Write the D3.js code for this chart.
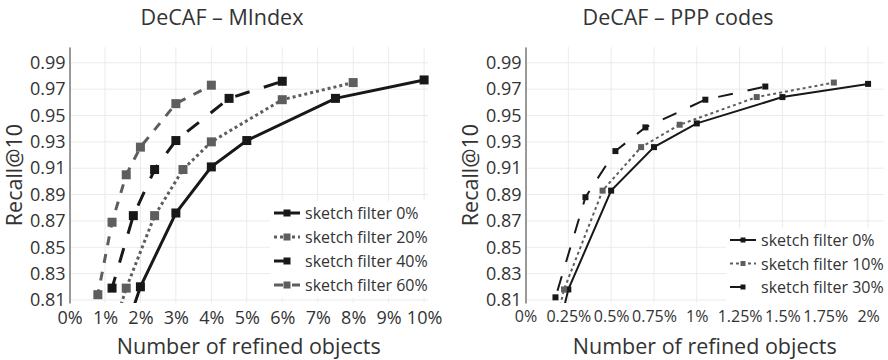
<!DOCTYPE html>
<html>
<head>
<meta charset="utf-8">
<script src="https://cdn.jsdelivr.net/npm/d3@7"></script>
<style>
  body { margin: 0; background: #fff; }
  text { font-family: "Open Sans", "Noto Sans", sans-serif; fill: #333; }
</style>
</head>
<body>
<svg id="chart" width="888" height="360"></svg>
<script>
// ---- data (x in % of refined objects, y = Recall@10) ----
// DeCAF - MIndex
const mindexNames = ["sketch filter 0%", "sketch filter 20%", "sketch filter 40%", "sketch filter 60%"]
const mindexX0 = [1, 2, 3, 4, 5, 7.5, 10]
const mindexY0 = [0.74, 0.820, 0.876, 0.911, 0.931, 0.963, 0.977]
const mindexX20 = [0.8, 1.6, 2.4, 3.2, 4, 6, 8]
const mindexY20 = [0.75, 0.819, 0.874, 0.909, 0.930, 0.962, 0.975]
const mindexX40 = [0.6, 1.2, 1.8, 2.4, 3, 4.5, 6]
const mindexY40 = [0.75, 0.819, 0.874, 0.909, 0.931, 0.963, 0.976]
const mindexX60 = [0.4, 0.8, 1.2, 1.6, 2, 3, 4]
const mindexY60 = [0.73, 0.814, 0.869, 0.905, 0.926, 0.959, 0.973]
const mindexTicks = [0, 1, 2, 3, 4, 5, 6, 7, 8, 9, 10]

// DeCAF - PPP codes
const pppNames = ["sketch filter 0%", "sketch filter 10%", "sketch filter 30%"]
const pppX0 = [0.125, 0.25, 0.5, 0.75, 1, 1.5, 2]
const pppY0 = [0.75, 0.818, 0.893, 0.926, 0.944, 0.964, 0.974]
const pppX10 = [0.1125, 0.225, 0.45, 0.675, 0.9, 1.35, 1.8]
const pppY10 = [0.757, 0.818, 0.893, 0.926, 0.943, 0.964, 0.975]
const pppX30 = [0.0875, 0.175, 0.35, 0.525, 0.7, 1.05, 1.4]
const pppY30 = [0.75, 0.812, 0.888, 0.923, 0.941, 0.962, 0.972]
const pppTicks = [0, 0.25, 0.5, 0.75, 1, 1.25, 1.5, 1.75, 2]

const recallTicks = [0.81, 0.83, 0.85, 0.87, 0.89, 0.91, 0.93, 0.95, 0.97, 0.99]

const BLACK = "#181818"
const GRAY = "#5e5e5e"

const svg = d3.select("#chart")

function toPoints(xs, ys) {
  return xs.map((x, i) => ({x: x, y: ys[i]}))
}

function drawPanel(cfg) {
  const x = d3.scaleLinear().domain(cfg.xDomain).range([cfg.left, cfg.right])
  const y = d3.scaleLinear().domain([0.8077, 1.002]).range([303, 47])

  const g = svg.append("g")

  // grid
  g.append("g").selectAll("line")
    .data(cfg.xTicks)
    .join("line")
      .attr("x1", d => x(d)).attr("x2", d => x(d))
      .attr("y1", y.range()[1]).attr("y2", y.range()[0])
      .attr("stroke", "#ebebeb").attr("stroke-width", 1)
  g.append("g").selectAll("line")
    .data(recallTicks)
    .join("line")
      .attr("x1", cfg.left).attr("x2", cfg.right)
      .attr("y1", d => y(d)).attr("y2", d => y(d))
      .attr("stroke", "#ebebeb").attr("stroke-width", 1)

  // axes (no domain line on x, gray line on y)
  const yAxis = g.append("g")
    .attr("transform", `translate(${cfg.left},0)`)
    .call(d3.axisLeft(y).tickValues(recallTicks).tickFormat(d3.format(".2f")).tickSize(0).tickPadding(4))
  yAxis.select(".domain").attr("stroke", "#999").attr("stroke-width", 2)
  yAxis.selectAll("text").style("font-size", "18px").attr("fill", "#333")

  const xAxis = g.append("g")
    .attr("transform", "translate(0,303)")
    .call(d3.axisBottom(x).tickValues(cfg.xTicks).tickFormat(d => d + "%").tickSize(0).tickPadding(8))
  xAxis.select(".domain").remove()
  xAxis.selectAll("text").style("font-size", cfg.xTickSize + "px").attr("fill", "#333")

  // clip for lines
  const clipId = "clip-" + cfg.id
  svg.append("clipPath").attr("id", clipId)
    .append("rect")
      .attr("x", cfg.left).attr("y", 47)
      .attr("width", cfg.right - cfg.left).attr("height", 256)

  const line = d3.line().x(d => x(d.x)).y(d => y(d.y))

  cfg.series.forEach(s => {
    const pts = toPoints(s.xs, s.ys)
    g.append("path")
      .datum(pts)
      .attr("clip-path", `url(#${clipId})`)
      .attr("fill", "none")
      .attr("stroke", s.color)
      .attr("stroke-width", cfg.lineWidth)
      .attr("stroke-dasharray", s.dash)
      .attr("d", line)
    g.append("g").selectAll("rect")
      .data(pts.filter(d => d.y >= y.domain()[0]))
      .join("rect")
        .attr("x", d => x(d.x) - cfg.marker / 2)
        .attr("y", d => y(d.y) - cfg.marker / 2)
        .attr("width", cfg.marker).attr("height", cfg.marker)
        .attr("fill", s.color)
  })

  // legend
  const lg = g.append("g")
  lg.append("rect")
    .attr("x", cfg.legend.x0).attr("y", cfg.legend.y0)
    .attr("width", cfg.legend.w).attr("height", cfg.legend.h)
    .attr("fill", "#fff")
  cfg.series.forEach((s, i) => {
    const ly = cfg.legend.rowY + i * cfg.legend.rowH
    const lx = cfg.legend.symX
    lg.append("line")
      .attr("x1", lx).attr("x2", lx + 26)
      .attr("y1", ly).attr("y2", ly)
      .attr("stroke", s.color).attr("stroke-width", cfg.lineWidth)
      .attr("stroke-dasharray", s.dash)
    lg.append("rect")
      .attr("x", lx + 13 - cfg.legend.marker / 2).attr("y", ly - cfg.legend.marker / 2)
      .attr("width", cfg.legend.marker).attr("height", cfg.legend.marker)
      .attr("fill", s.color)
    lg.append("text")
      .attr("x", lx + 31).attr("y", ly)
      .attr("dominant-baseline", "central")
      .style("font-size", "16px")
      .text(s.name)
  })

  // titles
  g.append("text")
    .attr("x", cfg.titleX).attr("y", 25)
    .attr("text-anchor", "middle")
    .style("font-size", "21.5px")
    .text(cfg.title)
  g.append("text")
    .attr("x", (cfg.left + cfg.right) / 2).attr("y", 354)
    .attr("text-anchor", "middle")
    .style("font-size", "21.5px")
    .text("Number of refined objects")
  g.append("text")
    .attr("transform", `translate(${cfg.yTitleX},175) rotate(-90)`)
    .attr("text-anchor", "middle")
    .attr("dominant-baseline", "central")
    .style("font-size", "21.5px")
    .text("Recall@10")
}

drawPanel({
  id: "mindex",
  title: "DeCAF – MIndex",
  titleX: 222,
  yTitleX: 13,
  left: 69.5, right: 428,
  xDomain: [0, 10.11],
  xTicks: mindexTicks,
  xTickSize: 18,
  lineWidth: 3,
  marker: 9,
  series: [
    {name: mindexNames[0], xs: mindexX0, ys: mindexY0, color: BLACK, dash: null},
    {name: mindexNames[1], xs: mindexX20, ys: mindexY20, color: GRAY, dash: "3,3"},
    {name: mindexNames[2], xs: mindexX40, ys: mindexY40, color: BLACK, dash: "15,15"},
    {name: mindexNames[3], xs: mindexX60, ys: mindexY60, color: GRAY, dash: "9,9"}
  ],
  legend: {x0: 270, y0: 201, w: 160, h: 97, symX: 274, rowY: 213, rowH: 24, marker: 7}
})

drawPanel({
  id: "ppp",
  title: "DeCAF – PPP codes",
  titleX: 678,
  yTitleX: 469,
  left: 525.5, right: 884,
  xDomain: [0, 2.093],
  xTicks: pppTicks,
  xTickSize: 16,
  lineWidth: 2,
  marker: 6,
  series: [
    {name: pppNames[0], xs: pppX0, ys: pppY0, color: BLACK, dash: null},
    {name: pppNames[1], xs: pppX10, ys: pppY10, color: GRAY, dash: "3,3"},
    {name: pppNames[2], xs: pppX30, ys: pppY30, color: BLACK, dash: "15,15"}
  ],
  legend: {x0: 726, y0: 228, w: 162, h: 75, symX: 730, rowY: 240, rowH: 23.5, marker: 5}
})
</script>
</body>
</html>
